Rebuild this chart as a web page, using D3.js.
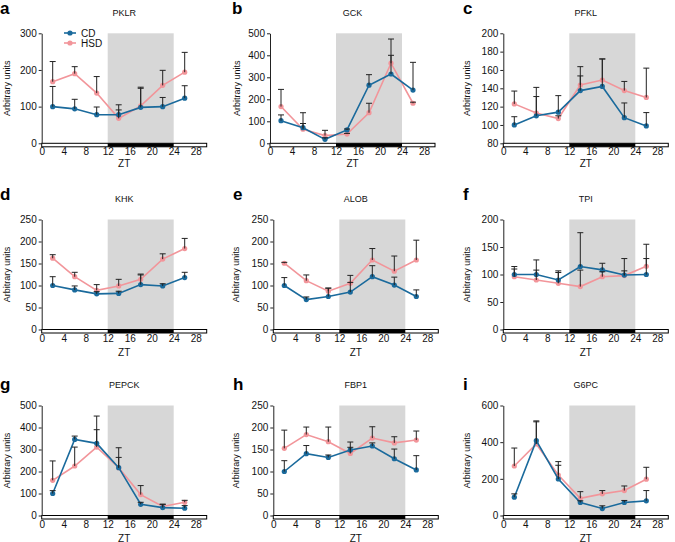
<!DOCTYPE html>
<html><head><meta charset="utf-8">
<script src="https://cdn.jsdelivr.net/npm/d3@7/dist/d3.min.js"></script>
<style>
body{margin:0;background:#fff;}
svg{display:block;font-family:"Liberation Sans",Arial,Helvetica,sans-serif;}
</style></head>
<body><svg id="chart" width="675" height="542"></svg>
<script>
// ---- data ----
const zt = [2, 6, 10, 14, 18, 22, 26];
const xTicks = [0, 4, 8, 12, 16, 20, 24, 28];
const genes = ["PKLR", "GCK", "PFKL", "KHK", "ALOB", "TPI", "PEPCK", "FBP1", "G6PC"];
const letters = ["a", "b", "c", "d", "e", "f", "g", "h", "i"];
const seriesNames = ["CD", "HSD"];

const pklrCD = [100, 94, 78, 78, 98, 100, 123];
const pklrCDErr = [55, 26, 21, 27, 55, 25, 34];
const pklrHSD = [168, 190, 137, 68, 102, 158, 194];
const pklrHSDErr = [55, 19, 45, 23, 48, 41, 54];

const gckCD = [103, 71, 18, 61, 264, 315, 242];
const gckCDErr = [26, 19, 7, 4, 48, 85, 126];
const gckHSD = [167, 64, 35, 42, 139, 364, 182];
const gckHSDErr = [78, 75, 24, 3, 43, 110, 5];

const pfklCD = [100, 110, 114, 137.5, 142, 108, 99];
const pfklCDErr = [9, 21, 18, 16, 30, 16, 14.5];
const pfklHSD = [123, 113, 107, 143.6, 149, 137.5, 130];
const pfklHSDErr = [14, 28, 3, 20, 23, 10, 32];

const khkCD = [100, 90, 81, 82, 102, 99, 118];
const khkCDErr = [20, 9, 5, 5, 22, 5, 12];
const khkHSD = [162, 120, 89, 99, 114, 160, 184];
const khkHSDErr = [8, 10, 13, 15, 12, 12, 23];

const alobCD = [100, 68, 75, 85, 120, 101, 75];
const alobCDErr = [18, 6, 19, 22, 25, 18, 15];
const alobHSD = [150.6, 111, 87, 105, 158, 132.5, 158];
const alobHSDErr = [2, 13, 7, 18, 26, 34.5, 45];

const tpiCD = [100, 100, 90, 114.5, 108.4, 99, 100];
const tpiCDErr = [14.5, 26.5, 16.6, 61.5, 12, 30, 55];
const tpiHSD = [96, 90, 84, 78, 96, 98, 115];
const tpiHSDErr = [14, 18, 19.6, 30, 9, 8.6, 14];

const pepckCD = [100, 346, 328, 217.5, 51, 36, 33];
const pepckCDErr = [13, 15, 124, 90.5, 9, 15, 12];
const pepckHSD = [160, 225, 311, 217, 95, 41, 60];
const pepckHSDErr = [88, 86, 79, 47, 41, 10, 9];

const fbp1CD = [100, 140.5, 132, 149, 158, 129, 103.5];
const fbp1CDErr = [24.6, 18.5, 5.5, 6, 7, 22, 32.5];
const fbp1HSD = [152.6, 184, 167.7, 141, 176, 165, 171.5];
const fbp1HSDErr = [41.4, 17, 33.3, 26, 25.7, 14, 20.5];

const g6pcCD = [100, 408, 199, 71, 38, 71, 80];
const g6pcCDErr = [18, 108, 75, 9, 15, 11, 56];
const g6pcHSD = [270, 390, 221, 94, 118, 136, 198];
const g6pcHSDErr = [98, 121, 73, 36, 18, 25, 65];

const yDomains = [[0,300],[0,500],[80,200],[0,250],[0,250],[0,200],[0,500],[0,250],[0,600]];
const yTickSteps = [100, 100, 20, 50, 50, 50, 100, 50, 200];
const darkPhase = [12, 24];

const cdData = [pklrCD, gckCD, pfklCD, khkCD, alobCD, tpiCD, pepckCD, fbp1CD, g6pcCD];
const cdErrs = [pklrCDErr, gckCDErr, pfklCDErr, khkCDErr, alobCDErr, tpiCDErr, pepckCDErr, fbp1CDErr, g6pcCDErr];
const hsdData = [pklrHSD, gckHSD, pfklHSD, khkHSD, alobHSD, tpiHSD, pepckHSD, fbp1HSD, g6pcHSD];
const hsdErrs = [pklrHSDErr, gckHSDErr, pfklHSDErr, khkHSDErr, alobHSDErr, tpiHSDErr, pepckHSDErr, fbp1HSDErr, g6pcHSDErr];

// ---- layout ----
const lefts = [41.7, 270, 503.3, 41.7, 273.3, 503.3, 41.7, 273.3, 503.3];
const letterX = [0, 232, 463, 0, 233, 463, 0, 233, 463];
const yLabelX = [6.7, 236.7, 467.3, 6.7, 235.7, 467.3, 6.7, 235.7, 467.3];
const rowTop = [33.3, 219.5, 405.5];
const letterY = [14, 200, 390];
const titleY = [16, 201.5, 388];
const ztY = [166.5, 356, 541.5];
const plotW = 165, plotH = 110;
const colCD = "#1a6a9c", colHSD = "#f2959a", colErr = "#222", colShade = "#d7d7d7";

const svg = d3.select("#chart");

genes.forEach((gene, i) => {
  const row = Math.floor(i / 3);
  const top = rowTop[row];
  const g = svg.append("g").attr("transform", `translate(${lefts[i]},${top})`);
  const x = d3.scaleLinear().domain([0, 30]).range([0, plotW]);
  const y = d3.scaleLinear().domain(yDomains[i]).range([plotH, 0]);

  // dark phase shading
  g.append("rect").attr("x", x(darkPhase[0])).attr("y", 0)
    .attr("width", x(darkPhase[1]) - x(darkPhase[0])).attr("height", plotH)
    .attr("fill", colShade);

  // light/dark bar as x axis
  g.append("rect").attr("x", x(0)).attr("y", plotH).attr("width", x(30) - x(0)).attr("height", 3.5)
    .attr("fill", "#fff").attr("stroke", "#000").attr("stroke-width", 1);
  g.append("rect").attr("x", x(darkPhase[0])).attr("y", plotH).attr("width", x(darkPhase[1]) - x(darkPhase[0])).attr("height", 3.5)
    .attr("fill", "#000");

  // x tick labels
  const xa = g.append("g").attr("transform", `translate(0,${plotH})`)
    .call(d3.axisBottom(x).tickValues(xTicks).tickSize(0).tickPadding(5));
  xa.select(".domain").remove();
  xa.selectAll("text").attr("font-size", 10).attr("font-family", "Liberation Sans, Arial, sans-serif").attr("fill", "#111").attr("dy", "0.71em");

  // y axis
  const [y0, y1] = yDomains[i];
  const ticks = d3.range(y0, y1 + 0.001, yTickSteps[i]);
  const ya = g.append("g").call(d3.axisLeft(y).tickValues(ticks).tickSize(3).tickPadding(2).tickSizeOuter(0));
  ya.select(".domain").attr("stroke", "#222");
  ya.selectAll(".tick line").attr("stroke", "#222");
  ya.selectAll("text").attr("font-size", 10).attr("font-family", "Liberation Sans, Arial, sans-serif").attr("fill", "#111");

  const line = d3.line().x((d, k) => x(zt[k])).y(d => y(d));

  // series
  const series = [
    {vals: hsdData[i], errs: hsdErrs[i], col: colHSD},
    {vals: cdData[i], errs: cdErrs[i], col: colCD}
  ];
  series.forEach(s => {
    g.append("path").datum(s.vals).attr("d", line).attr("fill", "none")
      .attr("stroke", s.col).attr("stroke-width", 1.6);
    g.selectAll(null).data(s.vals).enter().append("circle")
      .attr("cx", (d, k) => x(zt[k])).attr("cy", d => y(d)).attr("r", 2.6).attr("fill", s.col);
  });
  // error bars (upward)
  series.forEach(s => {
    s.vals.forEach((v, k) => {
      const cx = x(zt[k]), yt = y(v + s.errs[k]), yb = y(v);
      g.append("line").attr("x1", cx).attr("x2", cx).attr("y1", yb).attr("y2", yt)
        .attr("stroke", colErr).attr("stroke-width", 1);
      g.append("line").attr("x1", cx - 3).attr("x2", cx + 3).attr("y1", yt).attr("y2", yt)
        .attr("stroke", colErr).attr("stroke-width", 1);
    });
  });

  // title
  svg.append("text").attr("x", lefts[i] + plotW / 2).attr("y", titleY[row])
    .attr("text-anchor", "middle").attr("font-size", 9).attr("fill", "#111").text(gene);
  // panel letter
  svg.append("text").attr("x", letterX[i]).attr("y", letterY[row])
    .attr("font-size", 17).attr("font-weight", "bold").attr("fill", "#000").text(letters[i]);
  // ZT label
  svg.append("text").attr("x", lefts[i] + plotW / 2).attr("y", ztY[row])
    .attr("text-anchor", "middle").attr("font-size", 10).attr("fill", "#111").text("ZT");
  // y label
  svg.append("text").attr("transform", `translate(${yLabelX[i]},${top + plotH / 2}) rotate(-90)`)
    .attr("text-anchor", "middle").attr("dy", "0.35em").attr("font-size", 9).attr("fill", "#111")
    .text("Arbitrary units");
});

// legend (panel a)
const legCols = [colCD, colHSD];
const leg = svg.append("g");
seriesNames.forEach((name, k) => {
  const ly = 33 + k * 10;
  leg.append("line").attr("x1", 64).attr("x2", 76).attr("y1", ly).attr("y2", ly)
    .attr("stroke", legCols[k]).attr("stroke-width", 1.6);
  leg.append("circle").attr("cx", 70).attr("cy", ly).attr("r", 2.6).attr("fill", legCols[k]);
  leg.append("text").attr("x", 81).attr("y", ly).attr("dy", "0.35em").attr("font-size", 10)
    .attr("fill", "#111").text(name);
});
</script>
</body></html>
